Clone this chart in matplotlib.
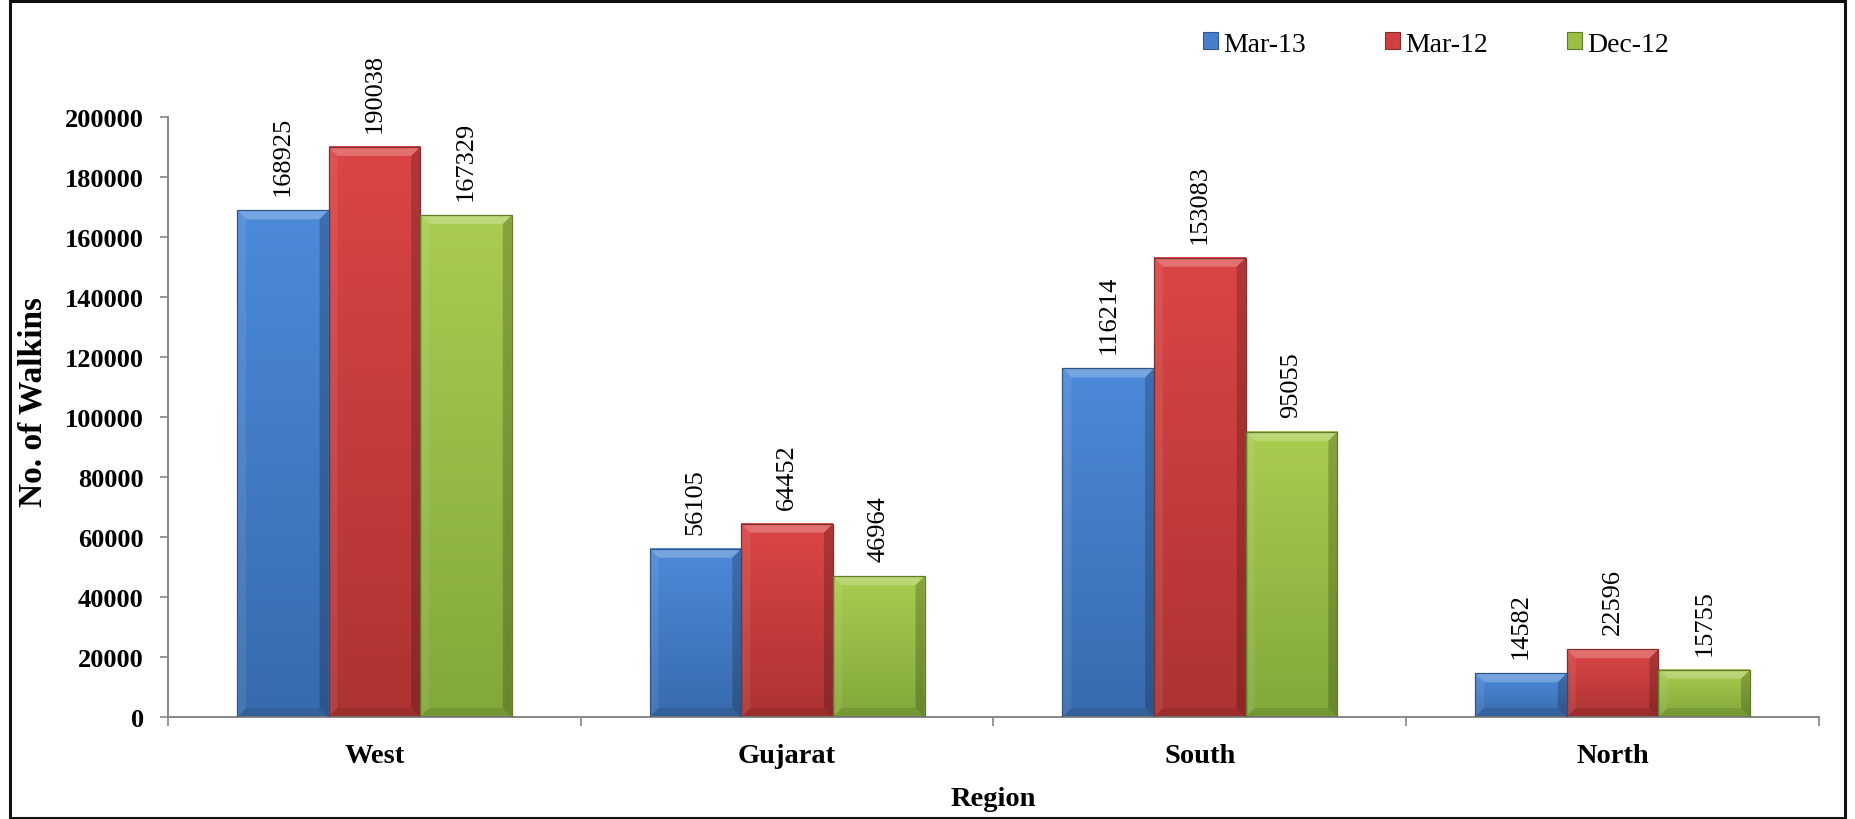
import numpy as np
import matplotlib
matplotlib.use("Agg")
import matplotlib.pyplot as plt
from matplotlib.patches import Polygon, Rectangle, Patch
from matplotlib.colors import LinearSegmentedColormap

plt.rcParams["font.family"] = ["Liberation Serif", "DejaVu Serif"]

# ---- data -------------------------------------------------------------
regions = ["West", "Gujarat", "South", "North"]
series_names = ["Mar-13", "Mar-12", "Dec-12"]
mar13 = [168925, 56105, 116214, 14582]
mar12 = [190038, 64452, 153083, 22596]
dec12 = [167329, 46964, 95055, 15755]
y_ticks = [0, 20000, 40000, 60000, 80000, 100000, 120000, 140000, 160000, 180000, 200000]

# bar styling: (top of gradient, bottom of gradient, legend colour, outline)
styles = [
    ((0.30, 0.54, 0.85), (0.22, 0.42, 0.68), (0.27, 0.50, 0.80), (0.20, 0.33, 0.52)),
    ((0.86, 0.27, 0.27), (0.68, 0.20, 0.20), (0.82, 0.25, 0.25), (0.50, 0.18, 0.18)),
    ((0.66, 0.80, 0.31), (0.51, 0.66, 0.23), (0.60, 0.75, 0.28), (0.38, 0.48, 0.17)),
]

W_PX, H_PX = 1856, 820
fig = plt.figure(figsize=(W_PX / 100, H_PX / 100), dpi=100)
ax_left, ax_right, ax_top, ax_bottom = 168, 1819, 118, 718
ax = fig.add_axes([ax_left / W_PX, 1 - ax_bottom / H_PX,
                   (ax_right - ax_left) / W_PX, (ax_bottom - ax_top) / H_PX])

x = np.arange(len(regions))
bw = 0.222
offsets = [-bw, 0.0, bw]
all_series = [mar13, mar12, dec12]

ax.set_xlim(-0.5, len(regions) - 0.5)
ax.set_ylim(0, 200000)

# data units per pixel, used for the bevel widths
sx = (len(regions)) / (ax_right - ax_left)
sy = 200000 / (ax_bottom - ax_top)
bev = 9

for vals, off, (ctop, cbot, cmid, cedge) in zip(all_series, offsets, styles):
    bars = ax.bar(x + off, vals, width=bw, color=cmid, linewidth=0, zorder=1.5)
    cmap = LinearSegmentedColormap.from_list("g", [cbot, ctop])
    for p, v in zip(bars, vals):
        x0, w, h = p.get_x(), p.get_width(), p.get_height()
        x1 = x0 + w
        grad = np.linspace(0, 1, 64).reshape(-1, 1)
        ax.imshow(grad, extent=(x0, x1, 0, h), aspect="auto", origin="lower",
                  cmap=cmap, interpolation="bilinear", zorder=2)
        bx = bev * sx
        by = min(bev * sy, h / 2)
        ax.add_patch(Polygon([(x0, h), (x1, h), (x1 - bx, h - by), (x0 + bx, h - by)],
                             closed=True, facecolor="white", alpha=0.24, lw=0, zorder=3))
        ax.add_patch(Polygon([(x0, 0), (x0, h), (x0 + bx, h - by), (x0 + bx, by)],
                             closed=True, facecolor="white", alpha=0.08, lw=0, zorder=3))
        ax.add_patch(Polygon([(x1, 0), (x1, h), (x1 - bx, h - by), (x1 - bx, by)],
                             closed=True, facecolor="black", alpha=0.20, lw=0, zorder=3))
        ax.add_patch(Polygon([(x0, 0), (x1, 0), (x1 - bx, by), (x0 + bx, by)],
                             closed=True, facecolor="black", alpha=0.10, lw=0, zorder=3))
        ax.add_patch(Rectangle((x0, 0), w, h, fill=False, edgecolor=cedge,
                               lw=0.9, zorder=4))
        ax.annotate(f"{v}", xy=(x0 + w / 2, h), xytext=(0, 15),
                    textcoords="offset pixels", rotation=90, ha="center",
                    va="bottom", fontsize=19, zorder=5)

# axes styling
axis_grey = "#868686"
for side in ("top", "right"):
    ax.spines[side].set_visible(False)
for side in ("left", "bottom"):
    ax.spines[side].set_color(axis_grey)
    ax.spines[side].set_linewidth(1.4)

ax.set_yticks(y_ticks)
ax.set_yticklabels([str(t) for t in y_ticks], fontsize=19, fontweight="bold")
ax.tick_params(axis="y", direction="out", length=5.5, width=1.2, color=axis_grey, pad=12)

ax.set_xticks(np.arange(len(regions) + 1) - 0.5)
ax.set_xticklabels([])
ax.tick_params(axis="x", which="major", direction="out", length=6.5, width=1.2, color=axis_grey)
ax.set_xticks(x, minor=True)
ax.set_xticklabels(regions, minor=True, fontsize=20.5, fontweight="bold")
ax.tick_params(axis="x", which="minor", length=0, pad=19)

ax.set_xlabel("Region", fontsize=20.5, fontweight="bold")
ax.xaxis.set_label_coords(0.5, -(800 - ax_bottom) / (ax_bottom - ax_top))
ax.xaxis.label.set_va("center")
ax.set_ylabel("No. of Walkins", fontsize=24, fontweight="bold")
ax.yaxis.set_label_coords((33 - ax_left) / (ax_right - ax_left),
                          (ax_bottom - 402) / (ax_bottom - ax_top))
ax.yaxis.label.set_va("center")

# legend
handles = [Patch(facecolor=s[2], edgecolor=s[3], linewidth=0.8) for s in styles]
fig.legend(handles, series_names, loc="center left",
           bbox_to_anchor=(1203 / W_PX, 1 - 45 / H_PX), ncol=3, frameon=False,
           fontsize=20, handlelength=0.54, handleheight=0.54, handletextpad=0.18,
           columnspacing=2.85, borderpad=0, borderaxespad=0)

# outer frame
fig.add_artist(Rectangle((10.5 / W_PX, 1.5 / H_PX), (W_PX - 21) / W_PX, (H_PX - 3) / H_PX,
                         transform=fig.transFigure, fill=False, edgecolor="#111111",
                         linewidth=2.2))

fig.savefig("out.png", dpi=100)
